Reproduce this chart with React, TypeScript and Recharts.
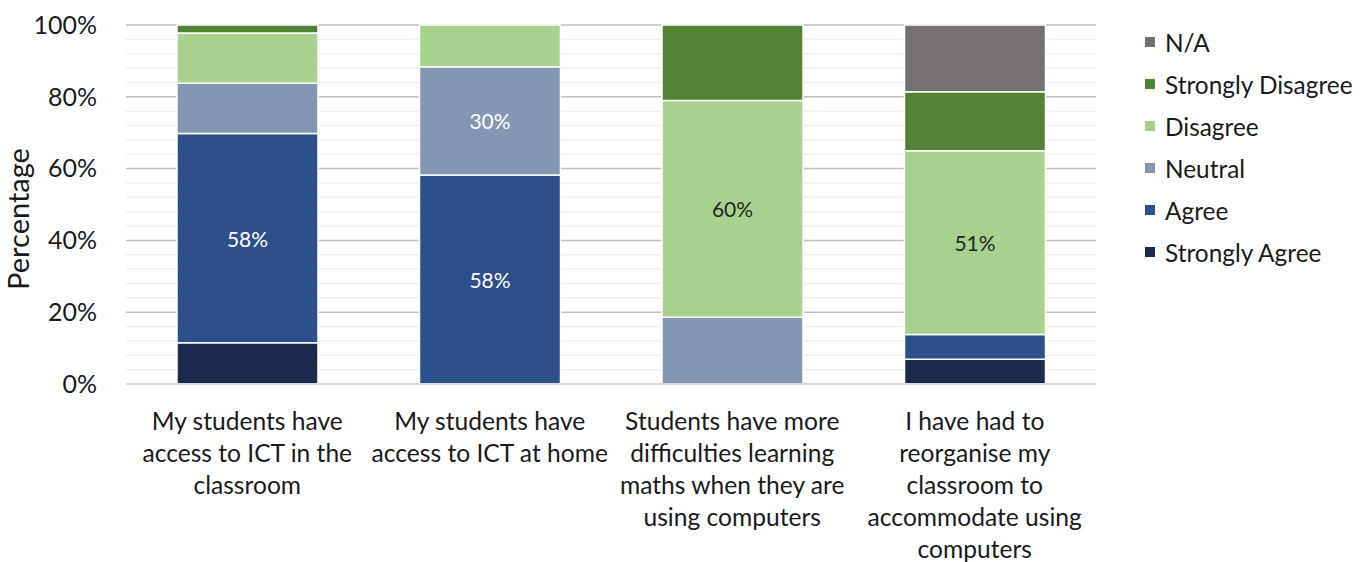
import React from 'react';
import { BarChart, Bar, XAxis, YAxis, CartesianGrid, Legend, LabelList, Label } from 'recharts';

const categories = [
  'My students have\naccess to ICT in the\nclassroom',
  'My students have\naccess to ICT at home',
  'Students have more\ndifficulties learning\nmaths when they are\nusing computers',
  'I have had to\nreorganise my\nclassroom to\naccommodate using\ncomputers',
];

const stronglyAgree = [11.5, 0, 0, 6.9];
const agree = [58.3, 58.2, 0, 6.9];
const neutral = [14.0, 30.2, 18.6, 0];
const disagree = [14.0, 11.6, 60.4, 51.2];
const stronglyDisagree = [2.2, 0, 21.0, 16.4];
const notApplicable = [0, 0, 0, 18.6];

const yTicks = [0, 20, 40, 60, 80, 100];
const minorTicks = [4, 8, 12, 16, 24, 28, 32, 36, 44, 48, 52, 56, 64, 68, 72, 76, 84, 88, 92, 96];

const series = [
  { key: 'sa', name: 'Strongly Agree', values: stronglyAgree, color: '#1c2b4b', labelColor: '#ffffff' },
  { key: 'a', name: 'Agree', values: agree, color: '#2d4f8b', labelColor: '#ffffff' },
  { key: 'n', name: 'Neutral', values: neutral, color: '#8497b0', labelColor: '#ffffff' },
  { key: 'd', name: 'Disagree', values: disagree, color: '#a9d18e', labelColor: '#262626' },
  { key: 'sd', name: 'Strongly Disagree', values: stronglyDisagree, color: '#548235', labelColor: '#ffffff' },
  { key: 'na', name: 'N/A', values: notApplicable, color: '#767171', labelColor: '#ffffff' },
];

const data = categories.map((c, i) => {
  const row: any = { category: c };
  series.forEach((s) => {
    row[s.key] = s.values[i];
  });
  return row;
});

const FONT = 'Lato, "Open Sans", sans-serif';

const CategoryTick = (props: any) => {
  const { x, y, payload } = props;
  const lines = String(payload.value).split('\n');
  return (
    <text x={x} y={y} textAnchor="middle" fill="#1a1a1a" fontSize={24.6} fontFamily={FONT}>
      {lines.map((l, i) => (
        <tspan key={i} x={x} dy={i === 0 ? 43.5 : 32.2}>
          {l}
        </tspan>
      ))}
    </text>
  );
};

const makeLabel = (color: string) => (props: any) => {
  const { x, y, width, height, value } = props;
  if (value == null || value < 25) return null;
  return (
    <text
      x={x + width / 2}
      y={y + height / 2}
      textAnchor="middle"
      dominantBaseline="central"
      fill={color}
      fontSize={21}
      fontFamily={FONT}
    >
      {Math.round(value)}%
    </text>
  );
};

const LegendContent = () => (
  <div style={{ fontFamily: FONT, fontSize: 24.4, color: '#1a1a1a' }}>
    {[...series].reverse().map((s) => (
      <div key={s.key} style={{ display: 'flex', alignItems: 'center', height: 42 }}>
        <span style={{ width: 10, height: 10, background: s.color, display: 'inline-block', marginRight: 10 }} />
        <span style={{ whiteSpace: 'nowrap' }}>{s.name}</span>
      </div>
    ))}
  </div>
);

const scaleY = (args: any, v: number) => {
  const { yAxis, offset } = args;
  if (yAxis && typeof yAxis.scale === 'function') return yAxis.scale(v);
  return offset.top + offset.height * (1 - v / 100);
};

export default function App() {
  return (
    <div style={{ position: 'absolute', left: 0, top: 0, width: 1372, height: 562, background: '#fff' }}>
      <BarChart
        width={1372}
        height={562}
        data={data}
        margin={{ top: 25, right: 276, bottom: 0, left: 0 }}
        barSize={141}
      >
        <CartesianGrid
          vertical={false}
          stroke="#efefef"
          strokeWidth={1.5}
          horizontalCoordinatesGenerator={(args: any) => minorTicks.map((v) => scaleY(args, v))}
        />
        <CartesianGrid
          vertical={false}
          stroke="#bfbfbf"
          strokeWidth={1.5}
          horizontalCoordinatesGenerator={(args: any) => yTicks.map((v) => scaleY(args, v))}
        />
        <XAxis
          dataKey="category"
          interval={0}
          height={178}
          tickLine={false}
          tickSize={0}
          axisLine={{ stroke: '#d9d9d9', strokeWidth: 2 }}
          tick={<CategoryTick />}
        />
        <YAxis
          width={126}
          domain={[0, 100]}
          ticks={yTicks}
          tickFormatter={(v: number) => `${v}%`}
          axisLine={false}
          tickLine={false}
          tickSize={0}
          tickMargin={29}
          tick={{ fill: '#1a1a1a', fontSize: 25, fontFamily: FONT }}
        >
          <Label
            content={() => (
              <text
                x={29}
                y={219}
                transform="rotate(-90, 29, 219)"
                textAnchor="middle"
                fill="#1a1a1a"
                fontSize={29}
                fontFamily={FONT}
              >
                Percentage
              </text>
            )}
          />
        </YAxis>
        <Legend
          layout="horizontal"
          verticalAlign="middle"
          align="center"
          content={<LegendContent />}
          wrapperStyle={{ position: 'absolute', left: 1145, top: 21, width: 227 }}
        />
        {series.map((s) => (
          <Bar
            key={s.key}
            dataKey={s.key}
            name={s.name}
            stackId="stack"
            fill={s.color}
            stroke="#ffffff"
            strokeWidth={1.5}
            isAnimationActive={false}
          >
            <LabelList dataKey={s.key} content={makeLabel(s.labelColor)} />
          </Bar>
        ))}
      </BarChart>
    </div>
  );
}
